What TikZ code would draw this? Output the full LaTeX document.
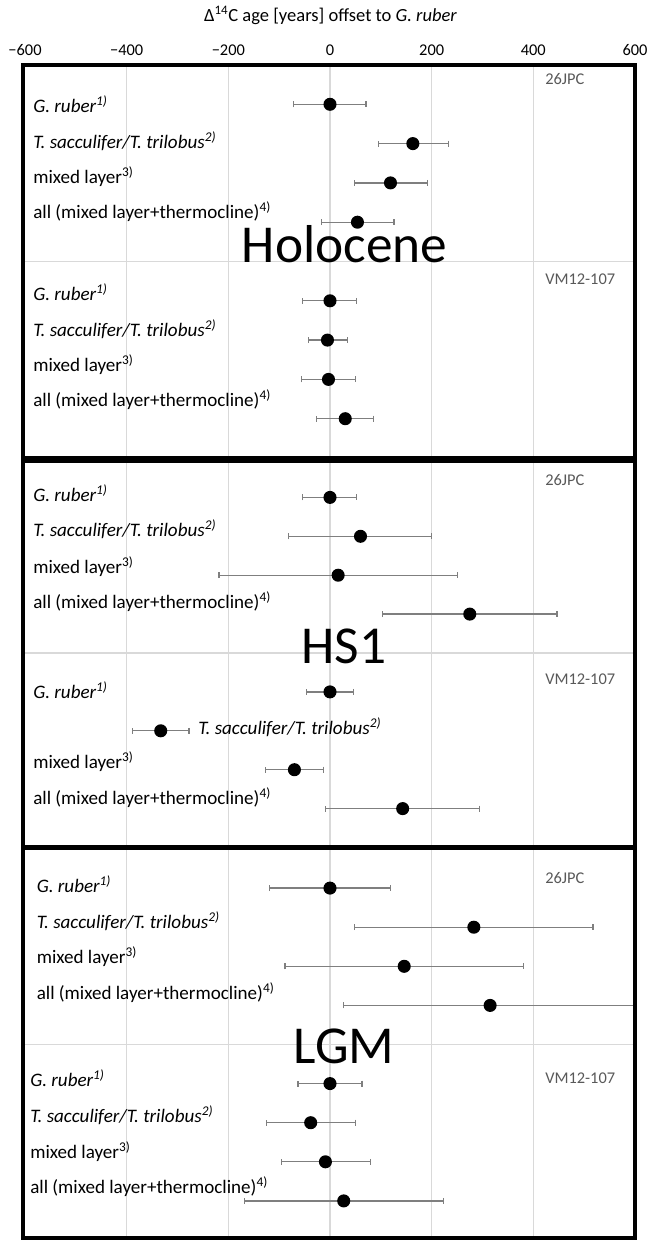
\documentclass[tikz,border=0pt]{standalone}
\usepackage{fontspec}
\setmainfont{Carlito}
\usepackage{xcolor}
\usepackage{tikz}
\usetikzlibrary{arrows.meta,positioning,calc}
\definecolor{gridgray}{HTML}{D9D9D9}
\definecolor{bargray}{HTML}{7F7F7F}
\definecolor{coregray}{HTML}{595959}
\newcommand{\gruber}{\textit{G. ruber\textsuperscript{1)}}}
\newcommand{\tsacc}{\textit{T. sacculifer/T. trilobus\textsuperscript{2)}}}
\newcommand{\mixlayer}{mixed layer\textsuperscript{3)}}
\newcommand{\allthermo}{all (mixed layer+thermocline)\textsuperscript{4)}}
\tikzset{
  panelframe/.style={draw=black,line width=3.4pt},
  gridline/.style={draw=gridgray,line width=0.8pt},
  errorbar/.style={{Bar[width=4.5pt]}-{Bar[width=4.5pt]},draw=bargray,line width=1pt},
  datadot/.style={circle,fill=black,inner sep=0pt,minimum size=9.8pt},
  rowlabel/.style={anchor=base west,inner sep=0pt,font=\fontsize{14.3}{17}\selectfont},
  corelabel/.style={anchor=base west,inner sep=0pt,text=coregray,font=\fontsize{12.3}{14}\selectfont},
  epochlabel/.style={anchor=base,inner sep=0pt,font=\fontsize{40}{44}\selectfont},
  axislabel/.style={anchor=base,inner sep=0pt,font=\fontsize{12.3}{14}\selectfont}
}

\begin{document}
\begin{tikzpicture}[x=0.75pt,y=-0.75pt]
  \useasboundingbox (0,0) rectangle (649,1240);
  % axis on top
  \node[axislabel,font=\fontsize{13.9}{16}\selectfont] (title) at (330.5,21)
    {Δ\textsuperscript{14}C age [years] offset to \textit{G. ruber}};
  \foreach \t/\lab in {-600/−600,-400/−400,-200/−200,0/0,200/200,400/400,600/600}
    \node[axislabel] (tick\t) at ({330+0.5083*\t},55) {\lab};
  \foreach \t in {-400,-200,0,200,400}
    \draw[gridline] ({330+0.5083*\t},65) -- ({330+0.5083*\t},1240);
  \foreach \y in {261.5,653,1044.5}
    \draw[gridline] (23,\y) -- (635,\y);

  % Holocene
  \foreach \k/\val/\lo/\hi in {1/0/-73/72,2/163/94/235,3/119/47/193,4/54/-18/127,
      6/0/-56/54,7/-5/-43/36,8/-3/-58/52,9/30/-28/87} {
    \coordinate (hol\k-lo) at ({330+0.5083*\lo},{65+39.3*\k});
    \coordinate (hol\k-hi) at ({330+0.5083*\hi},{65+39.3*\k});
    \draw[errorbar] (hol\k-lo) -- (hol\k-hi);
    \node[datadot] (hol\k) at ({330+0.5083*\val},{65+39.3*\k}) {};
  }
  \foreach \txt/\y [count=\i] in {\gruber/112,\tsacc/148,\mixlayer/183,\allthermo/218,
      \gruber/300,\tsacc/336,\mixlayer/371,\allthermo/406}
    \node[rowlabel] (hol-lab\i) at (33,\y) {\txt};
  \node[corelabel] (hol-jpc) at (545,84) {26JPC};
  \node[corelabel] (hol-vm) at (545,284) {VM12-107};
  \node[epochlabel] (hol-name) at (344.5,262) {Holocene};

  % HS1
  \foreach \k/\val/\lo/\hi in {1/0/-56/54,2/60/-83/201,3/16/-220/252,4/275/102/448,
      6/0/-48/48,7/-333/-390/-276,8/-70/-128/-12,9/143/-10/295} {
    \coordinate (hs\k-lo) at ({330+0.5083*\lo},{458.5+38.9*\k});
    \coordinate (hs\k-hi) at ({330+0.5083*\hi},{458.5+38.9*\k});
    \draw[errorbar] (hs\k-lo) -- (hs\k-hi);
    \node[datadot] (hs\k) at ({330+0.5083*\val},{458.5+38.9*\k}) {};
  }
  \foreach \txt/\x/\y [count=\i] in {\gruber/33/501,\tsacc/33/536,\mixlayer/33/573,\allthermo/33/608.5,
      \gruber/33/698,\tsacc/198/734,\mixlayer/33/768,\allthermo/33/804.5}
    \node[rowlabel] (hs-lab\i) at (\x,\y) {\txt};
  \node[corelabel] (hs-jpc) at (545,485) {26JPC};
  \node[corelabel] (hs-vm) at (545,684) {VM12-107};
  \node[epochlabel] (hs-name) at (344,663) {HS1};

  % LGM
  \foreach \k/\val/\lo/\hi in {1/0/-120/120,2/283/47/519,3/146/-90/382,4/315/25/600,
      6/0/-64/64,7/-38/-126/51,8/-9/-97/81,9/27/-169/225} {
    \coordinate (lgm\k-lo) at ({330+0.5083*\lo},{849+39.1*\k});
    \coordinate (lgm\k-hi) at ({330+0.5083*\hi},{849+39.1*\k});
    \draw[errorbar] (lgm\k-lo) -- (lgm\k-hi);
    \node[datadot] (lgm\k) at ({330+0.5083*\val},{849+39.1*\k}) {};
  }
  \foreach \txt/\x/\y [count=\i] in {\gruber/36.5/892,\tsacc/36.5/928,\mixlayer/36.5/963.5,\allthermo/36.5/999.5,
      \gruber/30/1086,\tsacc/30/1122,\mixlayer/30/1158,\allthermo/30/1193.5}
    \node[rowlabel] (lgm-lab\i) at (\x,\y) {\txt};
  \node[corelabel] (lgm-jpc) at (545,883.7) {26JPC};
  \node[corelabel] (lgm-vm) at (545,1083.7) {VM12-107};
  \node[epochlabel] (lgm-name) at (344,1063) {LGM};

  % frames
  \draw[panelframe] (23,65) rectangle (635,458);
  \draw[panelframe] (23,461) rectangle (635,847);
  \draw[panelframe] (23,848) rectangle (635,1238.5);
\end{tikzpicture}
\end{document}
